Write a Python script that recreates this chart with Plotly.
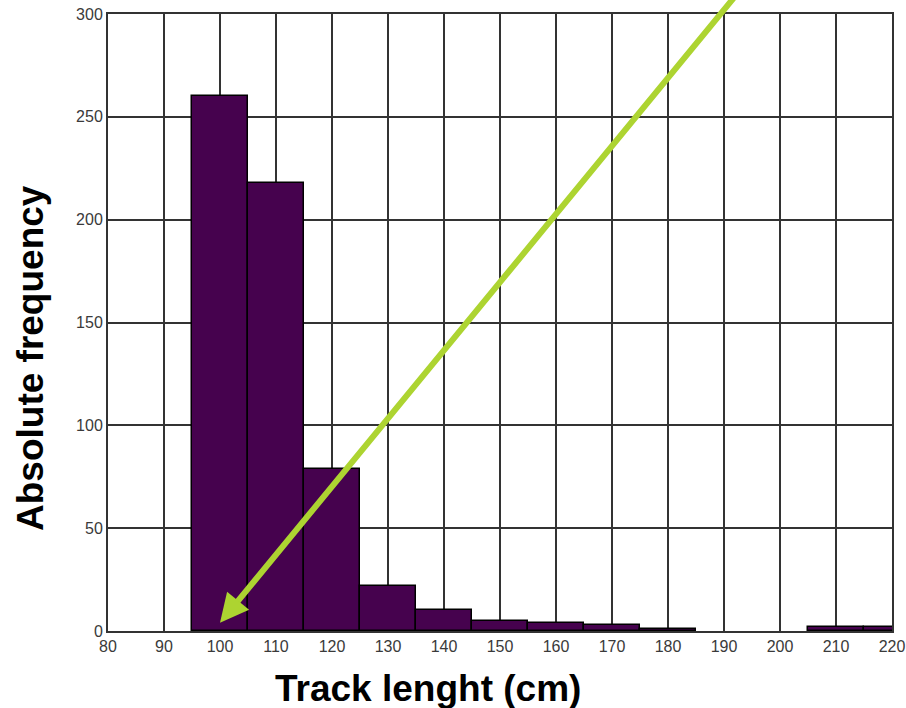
import plotly.graph_objects as go

bin_centers = [100, 110, 120, 130, 140, 150, 160, 170, 180, 190, 200, 210, 220]
counts = [260, 218, 79, 22, 10, 5, 4, 3, 1, 0, 0, 2, 2]
x_ticks = list(range(80, 221, 10))
y_ticks = list(range(0, 301, 50))

# only draw non-empty bins (empty bins have no outline in the reference)
bx = [c for c, n in zip(bin_centers, counts) if n > 0]
by = [n for n in counts if n > 0]

fig = go.Figure()
fig.add_trace(go.Bar(
    x=bx, y=by, width=10,
    marker=dict(color="#46024E", line=dict(color="black", width=1.5)),
))

fig.add_annotation(
    x=100, y=4, ax=193, ay=312, xref="x", yref="y", axref="x", ayref="y",
    showarrow=True, arrowhead=2, arrowsize=0.95, arrowwidth=6,
    arrowcolor="#ADD431", text="",
)

fig.add_annotation(
    text="<b>Track lenght (cm)</b>", xref="paper", yref="paper",
    x=(428 - 108) / 784, y=-(688 - 631) / 617, showarrow=False,
    font=dict(family="Liberation Sans, Arial", size=37, color="black"),
    xanchor="center", yanchor="middle",
)
fig.add_annotation(
    text="<b>Absolute frequency</b>", xref="paper", yref="paper",
    x=-(108 - 30) / 784, y=(631 - 358) / 617, showarrow=False, textangle=-90,
    font=dict(family="Liberation Sans, Arial", size=37, color="black"),
    xanchor="center", yanchor="middle",
)

axis_common = dict(
    showgrid=True, gridcolor="#333333", gridwidth=1.5,
    showline=True, linecolor="#333333", linewidth=2, mirror=True,
    ticks="", zeroline=False, ticklabeloverflow="allow",
    tickfont=dict(family="Liberation Sans, Arial", size=16, color="#3a3a3a"),
)
fig.update_xaxes(range=[80, 220], tickvals=x_ticks, **axis_common)
fig.update_yaxes(range=[0, 300], tickvals=y_ticks, **axis_common)

fig.update_layout(
    width=906, height=708,
    margin=dict(l=108, r=14, t=14, b=77, autoexpand=False),
    plot_bgcolor="white", paper_bgcolor="white",
    showlegend=False, bargap=0,
)
fig.write_html("out.html")
